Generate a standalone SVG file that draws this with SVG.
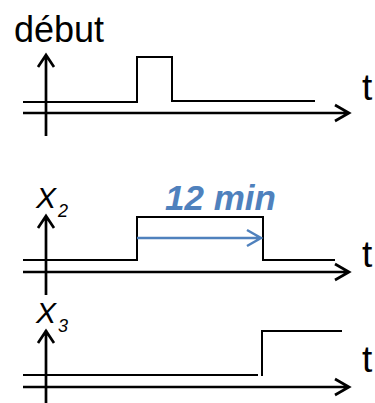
<svg xmlns="http://www.w3.org/2000/svg" width="375" height="403" viewBox="0 0 375 403">
<style>
.axis{fill:none;stroke:#000;stroke-width:2.7;stroke-linecap:butt}
.sig{fill:none;stroke:#000;stroke-width:2;stroke-linejoin:miter}
.blue{fill:none;stroke:#4F81BD;stroke-width:2.5}
.lbl{font-family:"Liberation Sans",Arial,sans-serif;fill:#000}
</style>
<rect width="375" height="403" fill="#fff"/>
<g id="connectors">
  <path class="axis" d="M46 136 V55 M38 67 L46 55 L54 67"/>
  <path class="axis" d="M23 113 H349 M335 105 L349 113 L335 121"/>
  <path class="axis" d="M46 295 V216 M38 228 L46 216 L54 228"/>
  <path class="axis" d="M23 272 H349 M335 264 L349 272 L335 280"/>
  <path class="axis" d="M46 403 V330 M38 343 L46 331 L54 343"/>
  <path class="axis" d="M23 387 H349 M335 379 L349 387 L335 395"/>
</g>
<g id="signal-debut">
  <path class="sig" d="M23 102 H137 V57 H172 V101 H315"/>
  <text class="lbl" x="14" y="42" font-size="36">début</text>
  <text class="lbl" x="362" y="100" font-size="37">t</text>
</g>
<g id="signal-x2">
  <path class="sig" d="M23 260 H137 V217 H263 V260 H335"/>
  <path class="blue" d="M137 238 H261 M247 230 L261 238 L247 246"/>
  <text x="165" y="210" font-family="'Liberation Sans',Arial,sans-serif" font-size="35" font-weight="bold" font-style="italic" fill="#4F81BD">12 min</text>
  <text class="lbl" x="36" y="208" font-size="30" font-style="italic">X<tspan font-size="18" dy="9" dx="2">2</tspan></text>
  <text class="lbl" x="362" y="267" font-size="37">t</text>
</g>
<g id="signal-x3">
  <path class="sig" d="M23 375 H258"/>
  <path class="sig" d="M262 376 V331 H342"/>
  <text class="lbl" x="36" y="323" font-size="30" font-style="italic">X<tspan font-size="18" dy="9" dx="2">3</tspan></text>
  <text class="lbl" x="362" y="372" font-size="37">t</text>
</g>
</svg>
